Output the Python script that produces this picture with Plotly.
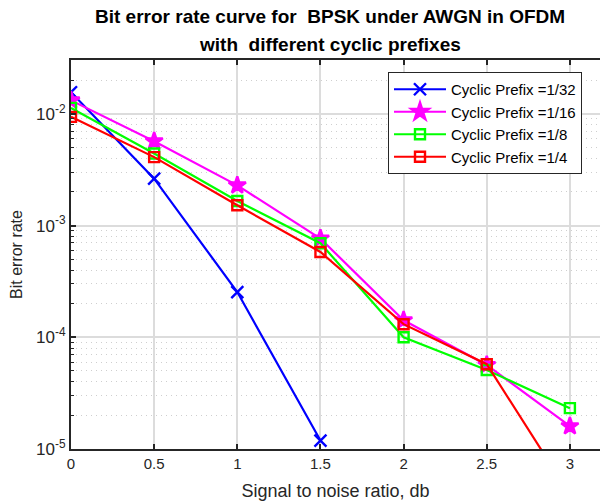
import plotly.graph_objects as go

snr = [0, 0.5, 1, 1.5, 2, 2.5, 3]
cp_1_32 = [0.0156, 0.00263, 0.000254, 0.0000119]
cp_1_16 = [0.0132, 0.00569, 0.00229, 0.000765, 0.000142, 0.0000565, 0.0000160]
cp_1_8 = [0.0113, 0.00442, 0.00166, 0.000695, 0.000100, 0.0000510, 0.0000232]
cp_1_4 = [0.0094, 0.00410, 0.00152, 0.000580, 0.000131, 0.0000574, 0.0000039]

series = [
    ("Cyclic Prefix =1/32", cp_1_32, "#0000FF", "x-thin", 12),
    ("Cyclic Prefix =1/16", cp_1_16, "#FF00FF", "star", 13),
    ("Cyclic Prefix =1/8", cp_1_8, "#00FF00", "square-open", 10),
    ("Cyclic Prefix =1/4", cp_1_4, "#FF0000", "square-open", 10),
]

font = "Liberation Sans, Arial, Helvetica, sans-serif"
fig = go.Figure()
for name, vals, color, sym, sz in series:
    fig.add_trace(go.Scatter(
        x=snr[:len(vals)], y=vals, name=name, mode="lines+markers",
        line=dict(color=color, width=2.2),
        marker=dict(symbol=sym, size=sz, color=color,
                    line=dict(color=color, width=2.4)),
    ))

major = [1e-5, 1e-4, 1e-3, 1e-2]
major_txt = ["10<sup>-5</sup>", "10<sup>-4</sup>", "10<sup>-3</sup>", "10<sup>-2</sup>"]
minor_vals = [m * d for d in major for m in range(2, 10)]

axis_col = "#262626"
grid_col = "#dcdcdc"
title_lines = ["Bit error rate curve for  BPSK under AWGN in OFDM",
               "with  different cyclic prefixes"]

ML, MT, MB = 71, 60, 55
W, H = 600, 504
PW = W - ML
PH = H - MT - MB

fig.update_layout(
    width=W, height=H,
    margin=dict(l=ML, r=0, t=MT, b=MB),
    paper_bgcolor="white", plot_bgcolor="white",
    font=dict(family=font, size=14, color="#262626"),
    showlegend=True,
    legend=dict(
        x=(388 - 71) / PW, y=1 - (72 - 60) / PH, xanchor="left", yanchor="top",
        bgcolor="white", bordercolor="#262626", borderwidth=1,
        font=dict(family=font, size=15, color="black"),
        tracegroupgap=0, itemwidth=52,
    ),
    xaxis=dict(
        range=[0, 3.181], tickvals=snr, ticktext=["0", "0.5", "1", "1.5", "2", "2.5", "3"],
        ticks="inside", ticklen=5, tickwidth=1.5, tickcolor=axis_col,
        showline=True, linecolor=axis_col, linewidth=2, automargin=False,
        showgrid=True, gridcolor=grid_col, gridwidth=1.5, zeroline=False,
        title=dict(text="Signal to noise ratio, db", standoff=13,
                   font=dict(family=font, size=18, color="#262626")),
        tickfont=dict(family=font, size=15, color="#262626"),
    ),
    xaxis2=dict(
        overlaying="x", side="top", anchor="y", matches="x", range=[0, 3.181],
        tickvals=snr, showticklabels=False, automargin=False,
        ticks="inside", ticklen=5, tickwidth=1.5, tickcolor=axis_col,
        showline=True, linecolor=axis_col, linewidth=2, showgrid=False, zeroline=False,
    ),
    yaxis=dict(
        type="log", range=[-5, -1.518],
        tickvals=major, ticktext=major_txt, automargin=False,
        ticks="inside", ticklen=5, tickwidth=1.5, tickcolor=axis_col,
        showline=True, linecolor=axis_col, linewidth=2,
        showgrid=True, gridcolor=grid_col, gridwidth=1.5, zeroline=False,
        tickfont=dict(family=font, size=17, color="#262626"),
        title=dict(text="Bit error rate", standoff=9,
                   font=dict(family=font, size=16, color="#262626")),
        minor=dict(tickvals=minor_vals, ticks="inside", ticklen=3, tickwidth=1.2,
                   tickcolor=axis_col, showgrid=True, gridcolor="#cfcfcf",
                   griddash="1px,4px", gridwidth=1),
    ),
    annotations=[
        dict(text="<b>%s</b>" % title_lines[0], xref="paper", yref="paper",
             x=(330 - 71) / PW, y=1 + (60 - 17) / PH, xanchor="center", yanchor="middle",
             showarrow=False, font=dict(family=font, size=19, color="black")),
        dict(text="<b>%s</b>" % title_lines[1], xref="paper", yref="paper",
             x=(330 - 71) / PW, y=1 + (60 - 45) / PH, xanchor="center", yanchor="middle",
             showarrow=False, font=dict(family=font, size=19, color="black")),
    ],
)

# invisible trace on the top axis so it is drawn
fig.add_trace(go.Scatter(x=[0], y=[1e-5], xaxis="x2", mode="markers",
                         marker=dict(opacity=0), showlegend=False, hoverinfo="skip"))

fig.write_html("out.html", config={"displayModeBar": False},
               post_script="document.body.style.margin='0';")
